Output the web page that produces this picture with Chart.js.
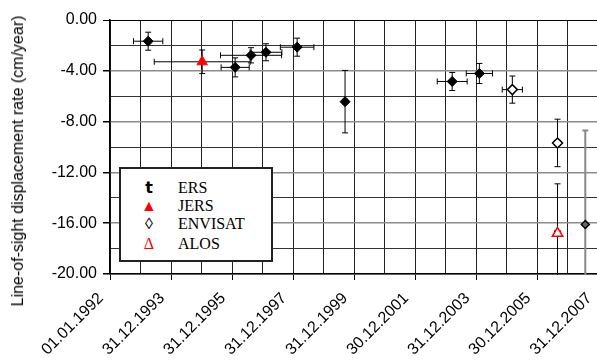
<!DOCTYPE html>
<html>
<head>
<meta charset="utf-8">
<script src="https://cdn.jsdelivr.net/npm/chart.js@4/dist/chart.umd.min.js"></script>
<style>
    body { margin: 0; background: #fff; overflow: hidden; }
    #wrap { position: relative; width: 597px; height: 362px; overflow: hidden; }
    #c { position: absolute; left: 0; top: 0; }
    #ytitle {
        position: absolute; left: 18px; top: 161px;
        transform: translate(-50%, -50%) rotate(-90deg);
        white-space: nowrap; font: 16px "Liberation Sans", Arial, sans-serif; color: #000;
    }
    #legend {
        position: absolute; left: 119px; top: 167px; width: 150px; height: 91px;
        border: 2px solid #222; background: #fff;
        font: 16px "Liberation Serif", "Times New Roman", serif; color: #000;
    }
    .row { position: absolute; left: 0; width: 150px; height: 19px; line-height: 19px; }
    .sym { position: absolute; left: 18px; width: 20px; text-align: center; }
    .lab { position: absolute; left: 57px; }
</style>
</head>
<body>
<div id="wrap">
    <canvas id="c" width="621" height="362"></canvas>
    <div id="ytitle">Line-of-sight displacement rate (cm/year)</div>
    <div id="legend">
        <div class="row" style="top:9px"><span class="sym" style="font:bold 16px 'DejaVu Sans',sans-serif">t</span><span class="lab">ERS</span></div>
        <div class="row" style="top:27px"><span class="sym" style="color:#f00">&#9650;</span><span class="lab">JERS</span></div>
        <div class="row" style="top:45px"><span class="sym">&#9674;</span><span class="lab">ENVISAT</span></div>
        <div class="row" style="top:65px"><span class="sym" style="color:#f00">&#916;</span><span class="lab">ALOS</span></div>
    </div>
</div>
<script>
// dates as decimal years, rates in cm/year
var ersYear = [1993.25, 1996.10, 1996.62, 1997.11, 1998.13, 1999.70, 2003.21, 2004.10];
var ersRate = [-1.67, -3.73, -2.78, -2.54, -2.14, -6.43, -4.84, -4.21];
var ersYearErr = [0.48, 0.46, 1.0, 0.52, 0.55, 0.07, 0.49, 0.43];
var ersRateErr = [0.71, 0.75, 0.6, 0.67, 0.71, 2.46, 0.71, 0.79];

var jersYear = [1995.02];
var jersRate = [-3.29];
var jersYearErr = [1.57];
var jersRateErr = [0.93];

var envisatYear = [2005.18, 2006.66, 2007.57];
var envisatRate = [-5.48, -9.68, -16.1];
var envisatYearErr = [0.33, 0.1, 0];
var envisatRateErr = [1.07, 1.87, 7.4];

var alosYear = [2006.66];
var alosRate = [-16.8];
var alosYearErr = [0.1];
var alosRateErr = [3.9];

var xTickLabels = ['01.01.1992', '31.12.1993', '31.12.1995', '31.12.1997', '31.12.1999',
                   '30.12.2001', '31.12.2003', '30.12.2005', '31.12.2007'];
var yTickValues = [0, -4, -8, -12, -16, -20];

// error bar / marker look per point (kept apart from data)
var envisatBarColor = ['#000', '#000', '#888'];
var envisatBarWidth = [1, 1, 2];
var envisatFill = ['#fff', '#fff', '#666'];
var envisatSize = [5, 5, 4];

function pts(xs, ys) {
    return xs.map(function (x, i) { return { x: x, y: ys[i] }; });
}

var errorBars = {
    id: 'errorBars',
    beforeDatasetsDraw: function (chart) {
        var ctx = chart.ctx, xs = chart.scales.x, ys = chart.scales.y, a = chart.chartArea;
        ctx.save();
        ctx.beginPath();
        ctx.rect(a.left, a.top, a.right - a.left, a.bottom - a.top + 1);
        ctx.clip();
        chart.data.datasets.forEach(function (ds) {
            ds.data.forEach(function (p, i) {
                var cx = xs.getPixelForValue(p.x), cy = ys.getPixelForValue(p.y);
                ctx.strokeStyle = ds.barColor ? ds.barColor[i] : '#000';
                ctx.lineWidth = ds.barWidth ? ds.barWidth[i] : 1;
                var dx = ds.xErr[i], dy = ds.yErr[i];
                ctx.beginPath();
                if (dy > 0) {
                    var y1 = ys.getPixelForValue(p.y + dy), y2 = ys.getPixelForValue(p.y - dy);
                    ctx.moveTo(cx, y1); ctx.lineTo(cx, y2);
                    ctx.moveTo(cx - 3, y1); ctx.lineTo(cx + 3, y1);
                    ctx.moveTo(cx - 3, y2); ctx.lineTo(cx + 3, y2);
                }
                if (dx > 0) {
                    var x1 = xs.getPixelForValue(p.x - dx), x2 = xs.getPixelForValue(p.x + dx);
                    ctx.moveTo(x1, cy); ctx.lineTo(x2, cy);
                    ctx.moveTo(x1, cy - 3); ctx.lineTo(x1, cy + 3);
                    ctx.moveTo(x2, cy - 3); ctx.lineTo(x2, cy + 3);
                }
                ctx.stroke();
            });
        });
        ctx.restore();
    }
};

new Chart(document.getElementById('c'), {
    type: 'scatter',
    data: {
        datasets: [
            {
                label: 'ERS', data: pts(ersYear, ersRate), xErr: ersYearErr, yErr: ersRateErr,
                pointStyle: 'rectRot', radius: 5, backgroundColor: '#000', borderColor: '#000', borderWidth: 1
            },
            {
                label: 'JERS', data: pts(jersYear, jersRate), xErr: jersYearErr, yErr: jersRateErr,
                pointStyle: 'triangle', radius: 6, backgroundColor: '#f00', borderColor: '#f00', borderWidth: 1
            },
            {
                label: 'ENVISAT', data: pts(envisatYear, envisatRate), xErr: envisatYearErr, yErr: envisatRateErr,
                barColor: envisatBarColor, barWidth: envisatBarWidth,
                pointStyle: 'rectRot', radius: envisatSize, backgroundColor: envisatFill, borderColor: '#000', borderWidth: 1.5
            },
            {
                label: 'ALOS', data: pts(alosYear, alosRate), xErr: alosYearErr, yErr: alosRateErr,
                pointStyle: 'triangle', radius: 6, backgroundColor: '#fff', borderColor: '#f00', borderWidth: 1.5
            }
        ]
    },
    options: {
        responsive: false,
        animation: false,
        devicePixelRatio: 1,
        layout: { padding: { top: 20, left: 0, right: 0, bottom: 0 } },
        plugins: { legend: { display: false }, tooltip: { enabled: false } },
        scales: {
            x: {
                type: 'linear', min: 1992, max: 2008,
                afterFit: function (s) { s.height = 88; },
                afterBuildTicks: function (s) {
                    s.ticks = [];
                    for (var v = 1992; v <= 2008; v++) s.ticks.push({ value: v });
                },
                ticks: {
                    autoSkip: false, minRotation: 45, maxRotation: 45, padding: 9, labelOffset: -9,
                    color: '#000', font: { family: '"Liberation Sans", Arial, sans-serif', size: 16 },
                    callback: function (v) {
                        var k = v - 1992;
                        return k % 2 === 0 ? xTickLabels[k / 2] : '';
                    }
                },
                grid: {
                    color: '#222', lineWidth: 1, tickLength: 6,
                    tickColor: function (c) { return c.tick && (c.tick.value - 1992) % 2 === 0 ? '#000' : 'rgba(0,0,0,0)'; }
                },
                border: { color: '#000', width: 1.5 }
            },
            y: {
                min: -20, max: 0,
                afterFit: function (s) { s.width = 110; },
                afterBuildTicks: function (s) {
                    s.ticks = [];
                    for (var v = -20; v <= 0; v += 2) s.ticks.push({ value: v });
                },
                ticks: {
                    padding: 6, color: '#000',
                    font: { family: '"Liberation Sans", Arial, sans-serif', size: 16 },
                    callback: function (v) { return yTickValues.indexOf(v) >= 0 ? v.toFixed(2) : ''; }
                },
                grid: {
                    tickLength: 7,
                    color: function (c) {
                        var v = c.tick ? c.tick.value : 1;
                        if (v === 0) return '#000';
                        return v % 4 === 0 ? '#8c8c8c' : '#333';
                    },
                    lineWidth: function (c) {
                        var v = c.tick ? c.tick.value : 1;
                        return v % 4 === 0 && v !== 0 ? 1.5 : 1;
                    },
                    borderDash: function (c) {
                        var v = c.tick ? c.tick.value : 0;
                        return v % 4 === 0 ? [] : [2, 1];
                    },
                    tickColor: function (c) {
                        var v = c.tick ? c.tick.value : 1;
                        return v % 4 === 0 ? '#000' : 'rgba(0,0,0,0)';
                    }
                },
                border: { color: '#000', width: 1.5 }
            }
        }
    },
    plugins: [errorBars]
});
</script>
</body>
</html>
